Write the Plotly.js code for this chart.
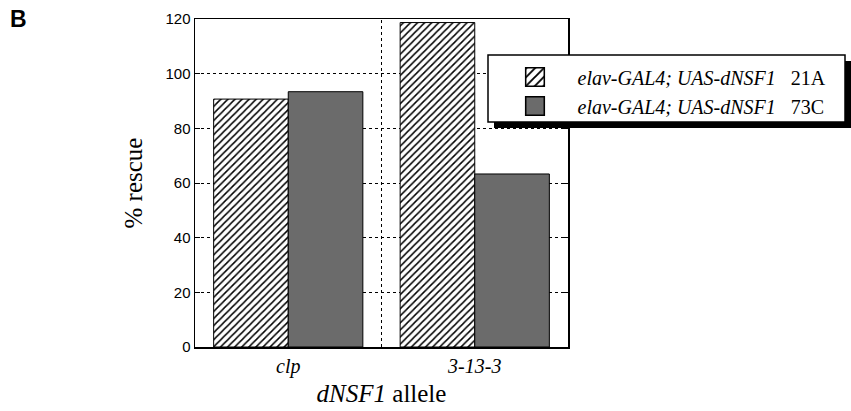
<!DOCTYPE html>
<html>
<head>
<meta charset="utf-8">
<script src="https://cdn.plot.ly/plotly-3.0.1.min.js"></script>
<style>html,body{margin:0;padding:0;background:#fff;}#chart{width:851px;height:411px;}</style>
</head>
<body>
<div id="chart"></div>
<script>
var alleles = ['<i>clp</i>', '<i>3-13-3</i>'];
var rescue21A = [90.7, 118.7];
var rescue73C = [93.4, 63.3];
var seriesNames = ['<i>elav-GAL4; UAS-dNSF1</i>\u00a0\u00a0 21A', '<i>elav-GAL4; UAS-dNSF1</i>\u00a0\u00a0 73C'];
var yTicks = [0, 20, 40, 60, 80, 100, 120];

var serif = 'Liberation Serif, Times New Roman, serif';
var sans = 'Liberation Sans, Arial, sans-serif';

var traces = [
  {
    type: 'bar', x: alleles, y: rescue21A, name: seriesNames[0],
    marker: {color: '#ffffff', line: {color: '#000', width: 1},
      pattern: {shape: '/', fgcolor: '#000', bgcolor: '#fff', size: 5, solidity: 0.3}}
  },
  {
    type: 'bar', x: alleles, y: rescue73C, name: seriesNames[1],
    marker: {color: '#6b6b6b', line: {color: '#000', width: 1}}
  }
];

function px2x(p){ return (p - 195) / 373; }
function py2y(p){ return (347 - p) / 328; }

var layout = {
  width: 851, height: 411,
  margin: {l: 195, r: 283, t: 19, b: 64},
  paper_bgcolor: '#fff', plot_bgcolor: '#fff',
  barmode: 'group', bargap: 0.2, bargroupgap: 0,
  showlegend: true,
  legend: {
    x: px2x(492.5), y: py2y(57.5), xanchor: 'left', yanchor: 'top',
    bgcolor: 'rgba(0,0,0,0)', borderwidth: 0, itemwidth: 75,
    font: {family: serif, size: 20, color: '#000'}, traceorder: 'normal'
  },
  xaxis: {
    type: 'category', range: [-0.5, 1.5],
    showline: true, linecolor: '#000', linewidth: 1.5, mirror: true,
    ticks: '', showgrid: false, zeroline: false,
    tickfont: {family: serif, size: 20, color: '#000'},
    title: {text: '\u00a0\u00a0\u00a0<i>dNSF1</i> allele', font: {family: serif, size: 25, color: '#000'}, standoff: 8}
  },
  yaxis: {
    range: [0, 120], tickvals: yTicks, ticktext: yTicks.map(String),
    showline: true, linecolor: '#000', linewidth: 1.5, mirror: 'ticks',
    ticks: 'inside', ticklen: 5, tickcolor: '#000', tickwidth: 1,
    showgrid: true, gridcolor: '#000', griddash: 'dot', gridwidth: 1, zeroline: false,
    tickfont: {family: sans, size: 15, color: '#000'},
    title: {text: '% rescue', font: {family: serif, size: 25, color: '#000'}, standoff: 15}
  },
  shapes: [
    {type: 'line', xref: 'x', yref: 'paper', x0: 0.5, x1: 0.5, y0: 0, y1: 1,
      line: {color: '#000', width: 1, dash: 'dot'}, layer: 'below'},
    {type: 'rect', xref: 'paper', yref: 'paper', x0: px2x(494), x1: px2x(851), y0: py2y(128), y1: py2y(61),
      fillcolor: '#000', line: {width: 0}, layer: 'above'},
    {type: 'rect', xref: 'paper', yref: 'paper', x0: px2x(488), x1: px2x(845), y0: py2y(122), y1: py2y(55),
      fillcolor: '#fff', line: {color: '#000', width: 1.5}, layer: 'above'}
  ],
  annotations: [
    {text: '<b>B</b>', xref: 'paper', yref: 'paper', x: px2x(8), y: py2y(4), xanchor: 'left', yanchor: 'top',
      showarrow: false, font: {family: sans, size: 23, color: '#000'}}
  ]
};

Plotly.newPlot('chart', traces, layout, {displayModeBar: false, staticPlot: true}).then(function(){
  document.querySelectorAll('.legend .legendpoints path').forEach(function(p){
    var t = p.getAttribute('transform') || '';
    p.setAttribute('transform', t + ' scale(1.55)');
  });
});
</script>
</body>
</html>
